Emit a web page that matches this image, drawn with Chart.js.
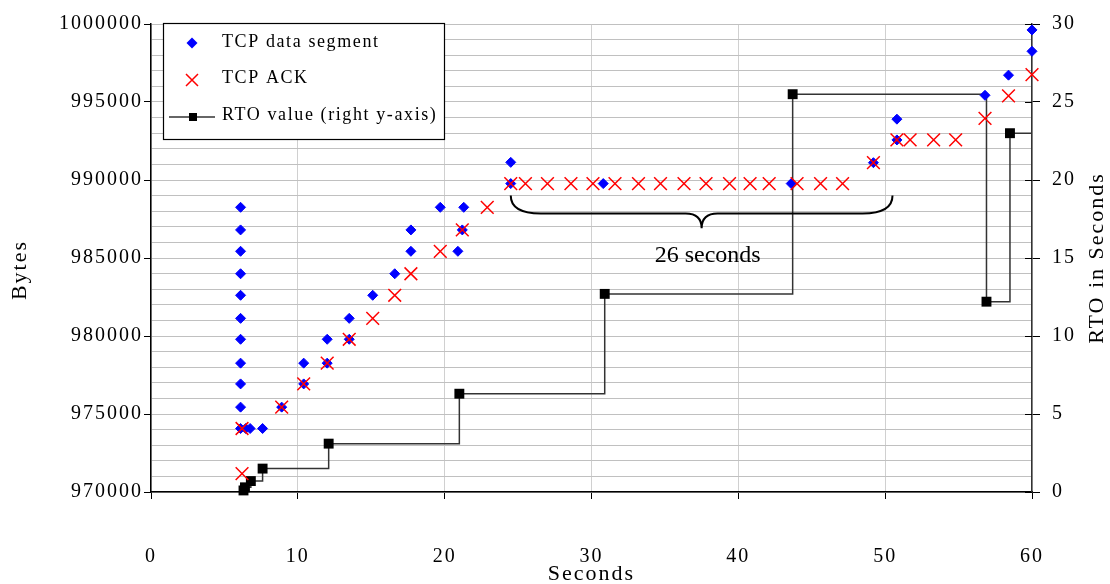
<!DOCTYPE html>
<html>
<head>
<meta charset="utf-8">
<script src="https://cdn.jsdelivr.net/npm/chart.js@4"></script>
<style>
html, body { margin: 0; padding: 0; background: #fff; }
</style>
</head>
<body>
<canvas id="chartRto" width="1110" height="584"></canvas>
<script>
// data
const segTimes = [6.1, 6.1, 6.1, 6.1, 6.1, 6.1, 6.1, 6.1, 6.1, 6.1, 6.1, 6.45, 6.75, 7.6,
    8.9, 10.4, 10.4, 12.0, 12.0, 13.5, 13.5, 15.1, 16.6, 17.7, 17.7, 19.7, 20.9, 21.2, 21.3,
    24.5, 24.5, 30.8, 43.6, 49.2, 50.8, 50.8, 56.8, 58.4, 60, 60];
const segBytes = [988250, 986800, 985430, 983990, 982610, 981130, 979790, 978260, 976930, 975440,
    974070, 974070, 974070, 974070, 975440, 976930, 978260, 978260, 979790, 979790, 981130,
    982610, 983990, 985430, 986800, 988250, 985430, 986800, 988250, 989770, 991130, 989770,
    989770, 991110, 992570, 993900, 995430, 996720, 998250, 999620];

const ackTimes = [6.2, 6.2, 8.9, 10.4, 12.0, 13.5, 15.1, 16.6, 17.7, 19.7, 21.2, 22.9,
    24.5, 25.5, 27.0, 28.6, 30.1, 31.6, 33.2, 34.7, 36.3, 37.8, 39.4, 40.8, 42.1, 44.0, 45.6, 47.1,
    49.2, 50.8, 51.7, 53.3, 54.8, 56.8, 58.4, 60];
const ackBytes = [971180, 974070, 975440, 976930, 978260, 979790, 981130, 982610, 983990, 985430, 986800, 988250,
    989770, 989770, 989770, 989770, 989770, 989770, 989770, 989770, 989770, 989770, 989770, 989770, 989770, 989770, 989770, 989770,
    991110, 992570, 992570, 992570, 992570, 993950, 995390, 996760];

const rtoTimes = [6.3, 6.4, 6.8, 7.6, 12.1, 21.0, 30.9, 43.7, 56.9, 58.5];
const rtoValues = [0.1, 0.3, 0.7, 1.5, 3.1, 6.3, 12.7, 25.5, 12.2, 23.0];

const secTicks = [0, 10, 20, 30, 40, 50, 60];
const byteTicks = [970000, 975000, 980000, 985000, 990000, 995000, 1000000];
const rtoTicks = [0, 5, 10, 15, 20, 25, 30];
const byteGridStep = 1000;

const seriesNames = ['TCP data segment', 'TCP ACK', 'RTO value (right y-axis)'];
const gapLabel = '26 seconds';
const gapFrom = 24.5, gapTo = 50.5;

const serif = "'Liberation Serif', 'DejaVu Serif', serif";

// the RTO line runs on to the right edge
const rtoPoints = rtoTimes.map((t, i) => ({ x: t, y: rtoValues[i] }));
rtoPoints.push({ x: secTicks[secTicks.length - 1], y: rtoValues[rtoValues.length - 1] });

const textSpacing = {
    id: 'textSpacing',
    beforeDraw(chart) {
        chart.ctx.letterSpacing = '2px';
    }
};

const extras = {
    id: 'extras',
    afterDraw(chart) {
        const { ctx, chartArea: a, scales } = chart;
        const sx = scales.x, sy = scales.y, sy2 = scales.y2;
        ctx.save();

        // right axis ticks cross the axis
        ctx.strokeStyle = '#000';
        ctx.lineWidth = 1;
        sy2.ticks.forEach(t => {
            const py = Math.round(sy2.getPixelForValue(t.value)) + 0.5;
            ctx.beginPath();
            ctx.moveTo(a.right - 7, py);
            ctx.lineTo(a.right, py);
            ctx.stroke();
        });

        // brace under the flat ACK run
        const x0 = sx.getPixelForValue(gapFrom), x1 = sx.getPixelForValue(gapTo);
        const xm = (x0 + x1) / 2;
        const yTop = sy.getPixelForValue(989000);
        const yMid = sy.getPixelForValue(987850);
        const yTip = sy.getPixelForValue(986900);
        ctx.lineWidth = 2;
        ctx.beginPath();
        ctx.moveTo(x0, yTop);
        ctx.quadraticCurveTo(x0, yMid, x0 + 30, yMid);
        ctx.lineTo(xm - 16, yMid);
        ctx.quadraticCurveTo(xm, yMid, xm, yTip);
        ctx.quadraticCurveTo(xm, yMid, xm + 16, yMid);
        ctx.lineTo(x1 - 30, yMid);
        ctx.quadraticCurveTo(x1, yMid, x1, yTop);
        ctx.stroke();

        ctx.fillStyle = '#000';
        ctx.letterSpacing = '0px';
        ctx.font = '24px ' + serif;
        ctx.textAlign = 'center';
        ctx.textBaseline = 'alphabetic';
        ctx.fillText(gapLabel, xm + 6, yTip + 34);

        // axis titles
        ctx.font = '22px ' + serif;
        ctx.letterSpacing = '2px';
        ctx.textBaseline = 'middle';
        ctx.fillText('Seconds', (a.left + a.right) / 2, 574);
        ctx.save();
        ctx.translate(20, 270);
        ctx.rotate(-Math.PI / 2);
        ctx.fillText('Bytes', 0, 0);
        ctx.restore();
        ctx.save();
        ctx.translate(1097, (a.top + a.bottom) / 2);
        ctx.rotate(-Math.PI / 2);
        ctx.fillText('RTO in Seconds', 0, 0);
        ctx.restore();

        // legend box
        const lx = 163.5, ly = 23.5;
        ctx.fillStyle = '#fff';
        ctx.fillRect(lx, ly, 281, 116);
        ctx.strokeStyle = '#000';
        ctx.lineWidth = 1.2;
        ctx.strokeRect(lx, ly, 281, 116);

        const ds = chart.data.datasets;
        // diamond
        ctx.fillStyle = ds[0].backgroundColor;
        ctx.beginPath();
        ctx.moveTo(192, 37.5); ctx.lineTo(197.5, 43); ctx.lineTo(192, 48.5); ctx.lineTo(186.5, 43);
        ctx.closePath();
        ctx.fill();
        // cross
        ctx.strokeStyle = ds[1].borderColor;
        ctx.lineWidth = 1.5;
        ctx.beginPath();
        ctx.moveTo(186, 74); ctx.lineTo(198, 86);
        ctx.moveTo(198, 74); ctx.lineTo(186, 86);
        ctx.stroke();
        // line + square
        ctx.strokeStyle = ds[2].borderColor;
        ctx.lineWidth = 1.5;
        ctx.beginPath();
        ctx.moveTo(169, 117); ctx.lineTo(215, 117);
        ctx.stroke();
        ctx.fillStyle = '#000';
        ctx.fillRect(189, 113, 8, 8);

        ctx.font = '18px ' + serif;
        ctx.letterSpacing = '1.6px';
        ctx.textAlign = 'left';
        ctx.textBaseline = 'alphabetic';
        ctx.fillText(seriesNames[0], 222, 47);
        ctx.fillText(seriesNames[1], 222, 83);
        ctx.fillText(seriesNames[2], 222, 120);

        ctx.restore();
    }
};

const configChartRto = {
    type: 'scatter',
    data: {
        datasets: [
            {
                label: seriesNames[0],
                data: segTimes.map((t, i) => ({ x: t, y: segBytes[i] })),
                yAxisID: 'y',
                pointStyle: 'rectRot',
                pointRadius: 5,
                pointBorderWidth: 1,
                backgroundColor: '#0000ff',
                borderColor: '#0000ff',
                order: 1,
                clip: false
            },
            {
                label: seriesNames[1],
                data: ackTimes.map((t, i) => ({ x: t, y: ackBytes[i] })),
                yAxisID: 'y',
                pointStyle: 'crossRot',
                pointRadius: 9,
                pointBorderWidth: 1.5,
                backgroundColor: '#ff0000',
                borderColor: '#ff0000',
                order: 0,
                clip: false
            },
            {
                label: seriesNames[2],
                data: rtoPoints,
                yAxisID: 'y2',
                showLine: true,
                stepped: 'before',
                borderColor: '#333333',
                borderWidth: 1.5,
                pointStyle: 'rect',
                pointRadius: ctx => ctx.dataIndex < rtoTimes.length ? 7 : 0,
                pointBackgroundColor: '#000',
                pointBorderColor: '#000',
                pointBorderWidth: 0,
                order: 2,
                clip: false
            }
        ]
    },
    options: {
        responsive: false,
        animation: false,
        events: [],
        layout: { padding: { top: 20, left: 0, right: 0, bottom: 0 } },
        plugins: {
            legend: { display: false },
            tooltip: { enabled: false }
        },
        font: { family: serif, size: 20 },
        scales: {
            x: {
                type: 'linear',
                position: 'bottom',
                min: secTicks[0],
                max: secTicks[secTicks.length - 1],
                afterFit: s => { s.height = 92; },
                ticks: {
                    stepSize: secTicks[1] - secTicks[0],
                    color: '#000',
                    padding: 46,
                    font: { family: serif, size: 20 }
                },
                grid: { color: '#d0d0d0', tickColor: '#000', tickLength: 7, lineWidth: 1 },
                border: { color: '#000', width: 1.5 }
            },
            y: {
                type: 'linear',
                position: 'left',
                min: byteTicks[0],
                max: byteTicks[byteTicks.length - 1],
                afterFit: s => { s.width = 151; },
                ticks: {
                    stepSize: byteGridStep,
                    autoSkip: false,
                    color: '#000',
                    padding: 1,
                    font: { family: serif, size: 20 },
                    callback: v => byteTicks.includes(v) ? String(v) : ''
                },
                grid: {
                    color: '#c0c0c0',
                    lineWidth: 1,
                    tickLength: 7,
                    tickColor: ctx => byteTicks.includes(ctx.tick.value) ? '#000' : 'rgba(0,0,0,0)'
                },
                border: { color: '#000', width: 1.5 }
            },
            y2: {
                type: 'linear',
                position: 'right',
                min: rtoTicks[0],
                max: rtoTicks[rtoTicks.length - 1],
                afterFit: s => { s.width = 78; },
                ticks: {
                    stepSize: rtoTicks[1] - rtoTicks[0],
                    color: '#000',
                    padding: 12,
                    font: { family: serif, size: 20 }
                },
                grid: { drawOnChartArea: false, tickColor: '#000', tickLength: 8 },
                border: { color: '#333', width: 1.5 }
            }
        }
    },
    plugins: [textSpacing, extras]
};

let chartRto = document.getElementById('chartRto');
let oChartRto = new Chart(chartRto, configChartRto);
</script>
</body>
</html>
